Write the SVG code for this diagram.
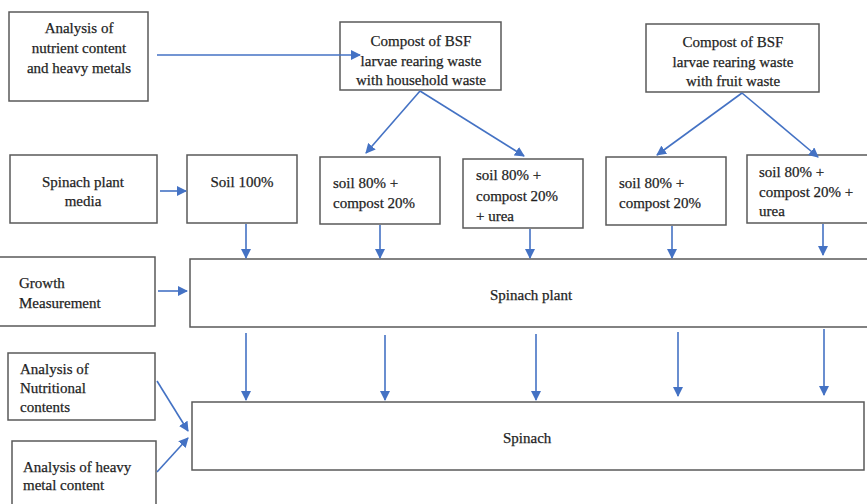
<svg xmlns="http://www.w3.org/2000/svg" width="867" height="504" viewBox="0 0 867 504">
<defs>
<marker id="ah" markerWidth="10" markerHeight="10" refX="9" refY="5" orient="auto" markerUnits="userSpaceOnUse">
<path d="M0,0 L10,5 L0,10 z" fill="#4472C4"/>
</marker>
<style>
.box{fill:#fff;stroke:#595959;stroke-width:1.5}
.t{font-family:'Liberation Serif','Times New Roman','DejaVu Serif',serif;font-size:15px;fill:#1f1f1f;stroke:#1f1f1f;stroke-width:0.25}
.c{text-anchor:middle}
.ln{stroke:#4472C4;stroke-width:1.6;fill:none;marker-end:url(#ah)}
</style>
</defs>
<rect width="867" height="504" fill="#fff"/>
<g id="n-analysis-nutrient">
<rect class="box" x="9" y="12" width="139" height="89"/>
<text class="t c" x="79" y="33">Analysis of</text>
<text class="t c" x="79" y="53">nutrient content</text>
<text class="t c" x="79" y="73">and heavy metals</text>
</g>
<g id="n-bsf-household">
<rect class="box" x="340" y="22" width="161" height="68"/>
<text class="t c" x="421" y="46">Compost of BSF</text>
<text class="t c" x="421" y="66">larvae rearing waste</text>
<text class="t c" x="421" y="85">with household waste</text>
</g>
<g id="n-bsf-fruit">
<rect class="box" x="646" y="24" width="173" height="68"/>
<text class="t c" x="733" y="47">Compost of BSF</text>
<text class="t c" x="733" y="67">larvae rearing waste</text>
<text class="t c" x="733" y="86">with fruit waste</text>
</g>
<g id="n-media">
<rect class="box" x="10" y="155" width="147" height="68"/>
<text class="t c" x="83" y="187">Spinach plant</text>
<text class="t c" x="83" y="206">media</text>
</g>
<g id="n-soil100">
<rect class="box" x="187" y="155" width="110" height="68"/>
<text class="t c" x="242" y="187">Soil 100%</text>
</g>
<g id="n-s1">
<rect class="box" x="320" y="157" width="120" height="67"/>
<text class="t" x="333" y="188">soil 80% +</text>
<text class="t" x="333" y="208">compost 20%</text>
</g>
<g id="n-s2">
<rect class="box" x="463" y="159" width="120" height="69"/>
<text class="t" x="476" y="180">soil 80% +</text>
<text class="t" x="476" y="201">compost 20%</text>
<text class="t" x="476" y="221">+ urea</text>
</g>
<g id="n-s3">
<rect class="box" x="606" y="157" width="120" height="68"/>
<text class="t" x="619" y="188">soil 80% +</text>
<text class="t" x="619" y="208">compost 20%</text>
</g>
<g id="n-s4">
<rect class="box" x="747" y="155" width="125" height="68"/>
<text class="t" x="759" y="177">soil 80% +</text>
<text class="t" x="759" y="197">compost 20% +</text>
<text class="t" x="759" y="216">urea</text>
</g>
<g id="n-growth">
<rect class="box" x="-2" y="257" width="157" height="69"/>
<text class="t" x="19" y="288">Growth</text>
<text class="t" x="19" y="308">Measurement</text>
</g>
<g id="n-plant">
<rect class="box" x="190" y="259" width="682" height="68"/>
<text class="t" x="490" y="300">Spinach plant</text>
</g>
<g id="n-nutritional">
<rect class="box" x="8" y="353" width="147" height="67"/>
<text class="t" x="20" y="374">Analysis of</text>
<text class="t" x="20" y="393">Nutritional</text>
<text class="t" x="20" y="412">contents</text>
</g>
<g id="n-heavy">
<rect class="box" x="12" y="441" width="144" height="70"/>
<text class="t" x="23" y="472">Analysis of heavy</text>
<text class="t" x="23" y="490">metal content</text>
</g>
<g id="n-spinach">
<rect class="box" x="192" y="402" width="672" height="68"/>
<text class="t" x="503" y="443">Spinach</text>
</g>
<g id="connectors">
<line class="ln" x1="157" y1="55" x2="360" y2="55"/>
<line class="ln" x1="420" y1="91" x2="366" y2="153"/>
<line class="ln" x1="420" y1="91" x2="524" y2="156"/>
<line class="ln" x1="742" y1="93" x2="657" y2="155"/>
<line class="ln" x1="742" y1="93" x2="818" y2="157"/>
<line class="ln" x1="160" y1="191" x2="186" y2="191"/>
<line class="ln" x1="246" y1="224" x2="246" y2="258"/>
<line class="ln" x1="380" y1="225" x2="380" y2="258"/>
<line class="ln" x1="530" y1="229" x2="530" y2="258"/>
<line class="ln" x1="672" y1="226" x2="672" y2="258"/>
<line class="ln" x1="823" y1="224" x2="823" y2="255"/>
<line class="ln" x1="158" y1="291" x2="187" y2="291"/>
<line class="ln" x1="246" y1="333" x2="246" y2="400"/>
<line class="ln" x1="385" y1="335" x2="385" y2="400"/>
<line class="ln" x1="536" y1="334" x2="536" y2="400"/>
<line class="ln" x1="678" y1="332" x2="678" y2="396"/>
<line class="ln" x1="824" y1="329" x2="824" y2="395"/>
<line class="ln" x1="157" y1="381" x2="188" y2="431"/>
<line class="ln" x1="157" y1="472" x2="188" y2="438"/>
</g>
</svg>
